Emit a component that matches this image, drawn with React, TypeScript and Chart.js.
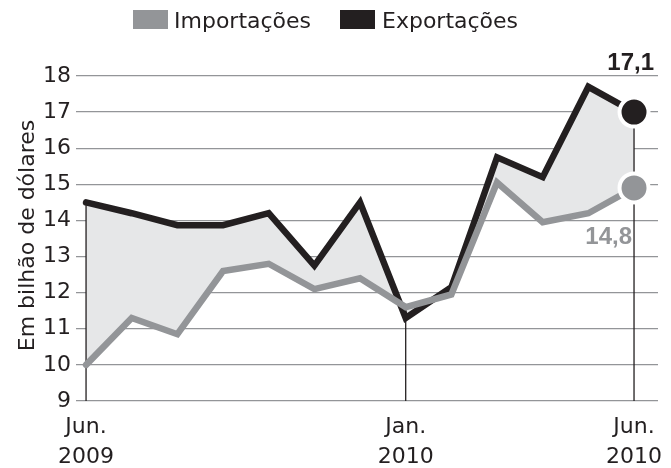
import React, { useEffect, useRef } from "react";
import { Chart, registerables } from "chart.js";

Chart.register(...registerables);

const months = [
  "Jun. 2009", "Jul. 2009", "Ago. 2009", "Set. 2009", "Out. 2009", "Nov. 2009",
  "Dez. 2009", "Jan. 2010", "Fev. 2010", "Mar. 2010", "Abr. 2010", "Mai. 2010", "Jun. 2010",
];
const importsData = [10.0, 11.3, 10.85, 12.6, 12.8, 12.1, 12.4, 11.6, 11.95, 15.05, 13.95, 14.2, 14.9];
const exportsData = [14.5, 14.2, 13.87, 13.87, 14.2, 12.75, 14.5, 11.3, 12.15, 15.75, 15.2, 17.7, 17.0];
const xTickValues = [0, 7, 12];
const xTickLabels = [["Jun.", "2009"], ["Jan.", "2010"], ["Jun.", "2010"]];
const yTicks = [9, 10, 11, 12, 13, 14, 15, 16, 17, 18];
const seriesNames = ["Importações", "Exportações"];
const endLabels = ["14,8", "17,1"];
const yTitle = "Em bilhão de dólares";

const INK = "#231f20";
const GRAY = "#939598";
const FILL = "#e6e7e8";
const FONT = "'DejaVu Sans', sans-serif";

export default function App() {
  const ref = useRef<HTMLCanvasElement | null>(null);

  useEffect(() => {
    document.body.style.margin = "0";
    const canvas = ref.current;
    if (!canvas) return;
    const last = months.length - 1;

    const overlay = {
      id: "overlay",
      beforeDatasetsDraw(chart: any) {
        const { ctx, scales, chartArea } = chart;
        const x = scales.x, y = scales.y;
        ctx.save();
        ctx.strokeStyle = INK;
        ctx.lineWidth = 1.3;
        xTickValues.forEach((v) => {
          const top = Math.max(exportsData[v], importsData[v]);
          const px = x.getPixelForValue(v);
          ctx.beginPath();
          ctx.moveTo(px, y.getPixelForValue(top));
          ctx.lineTo(px, chartArea.bottom);
          ctx.stroke();
        });
        ctx.restore();
      },
      afterDraw(chart: any) {
        const { ctx, chartArea } = chart;
        ctx.save();
        // legend
        ctx.font = `22px ${FONT}`;
        ctx.textBaseline = "alphabetic";
        ctx.textAlign = "left";
        const items = [
          { color: GRAY, box: 133, text: 174 },
          { color: INK, box: 340, text: 382 },
        ];
        items.forEach((it, i) => {
          ctx.fillStyle = it.color;
          ctx.fillRect(it.box, 10, 35, 19);
          ctx.fillStyle = INK;
          ctx.fillText(seriesNames[i], it.text, 27.5);
        });
        // y title
        ctx.save();
        ctx.translate(34, (chartArea.top + chartArea.bottom) / 2 - 3);
        ctx.rotate(-Math.PI / 2);
        ctx.textAlign = "center";
        ctx.fillStyle = INK;
        ctx.fillText(yTitle, 0, 0);
        ctx.restore();
        // end labels
        ctx.font = `bold 24px 'Liberation Sans', Arial, sans-serif`;
        ctx.textAlign = "right";
        const pImp = chart.getDatasetMeta(0).data[last];
        const pExp = chart.getDatasetMeta(1).data[last];
        ctx.fillStyle = INK;
        ctx.fillText(endLabels[1], pExp.x + 20, pExp.y - 42);
        ctx.fillStyle = GRAY;
        ctx.fillText(endLabels[0], pImp.x - 2, pImp.y + 56);
        ctx.restore();
      },
    };

    const radii = months.map((_, i) => (i === last ? 14.5 : 0));

    const chart = new Chart(canvas, {
      type: "line",
      data: {
        datasets: [
          {
            label: seriesNames[0],
            data: importsData.map((v, i) => ({ x: i, y: v })),
            borderColor: GRAY,
            backgroundColor: GRAY,
            borderWidth: 6.5,
            borderJoinStyle: "miter",
            borderCapStyle: "round",
            pointRadius: radii,
            pointHoverRadius: radii,
            pointBackgroundColor: GRAY,
            pointBorderColor: "#ffffff",
            pointBorderWidth: 4,
            fill: false,
            tension: 0,
          },
          {
            label: seriesNames[1],
            data: exportsData.map((v, i) => ({ x: i, y: v })),
            borderColor: INK,
            backgroundColor: FILL,
            borderWidth: 6.5,
            borderJoinStyle: "miter",
            borderCapStyle: "round",
            pointRadius: radii,
            pointHoverRadius: radii,
            pointBackgroundColor: INK,
            pointBorderColor: "#ffffff",
            pointBorderWidth: 4,
            fill: "-1",
            tension: 0,
          },
        ],
      },
      options: {
        responsive: false,
        animation: false,
        events: [],
        clip: false,
        layout: { autoPadding: false, padding: { top: 76, right: 13, bottom: 0, left: 0 } },
        plugins: {
          legend: { display: false },
          tooltip: { enabled: false },
          filler: { drawTime: "beforeDatasetsDraw" },
        },
        scales: {
          x: {
            type: "linear",
            min: -0.22,
            max: 12.525,
            grid: { display: false, drawTicks: false },
            border: { display: false },
            afterBuildTicks: (s: any) => {
              s.ticks = xTickValues.map((v) => ({ value: v }));
            },
            afterFit: (s: any) => {
              s.height = 67;
              s.paddingLeft = 0;
              s.paddingRight = 0;
            },
            ticks: {
              autoSkip: false,
              maxRotation: 0,
              padding: 12,
              color: INK,
              font: { family: FONT, size: 22, lineHeight: 1.33 },
              callback: (value: any) => {
                const idx = xTickValues.indexOf(Number(value));
                return idx >= 0 ? xTickLabels[idx] : "";
              },
            },
          },
          y: {
            min: 9,
            max: 18,
            grid: { color: GRAY, lineWidth: 1.3, drawTicks: false },
            border: { display: false },
            afterBuildTicks: (s: any) => {
              s.ticks = yTicks.map((v) => ({ value: v }));
            },
            afterFit: (s: any) => {
              s.width = 76;
              s.paddingTop = 0;
              s.paddingBottom = 0;
            },
            ticks: {
              padding: 5,
              color: INK,
              font: { family: FONT, size: 22 },
            },
          },
        },
      },
      plugins: [overlay],
    } as any);

    return () => chart.destroy();
  }, []);

  return (
    <div style={{ width: 671, height: 468, position: "relative" }}>
      <canvas ref={ref} width={671} height={468} style={{ display: "block" }} />
    </div>
  );
}
